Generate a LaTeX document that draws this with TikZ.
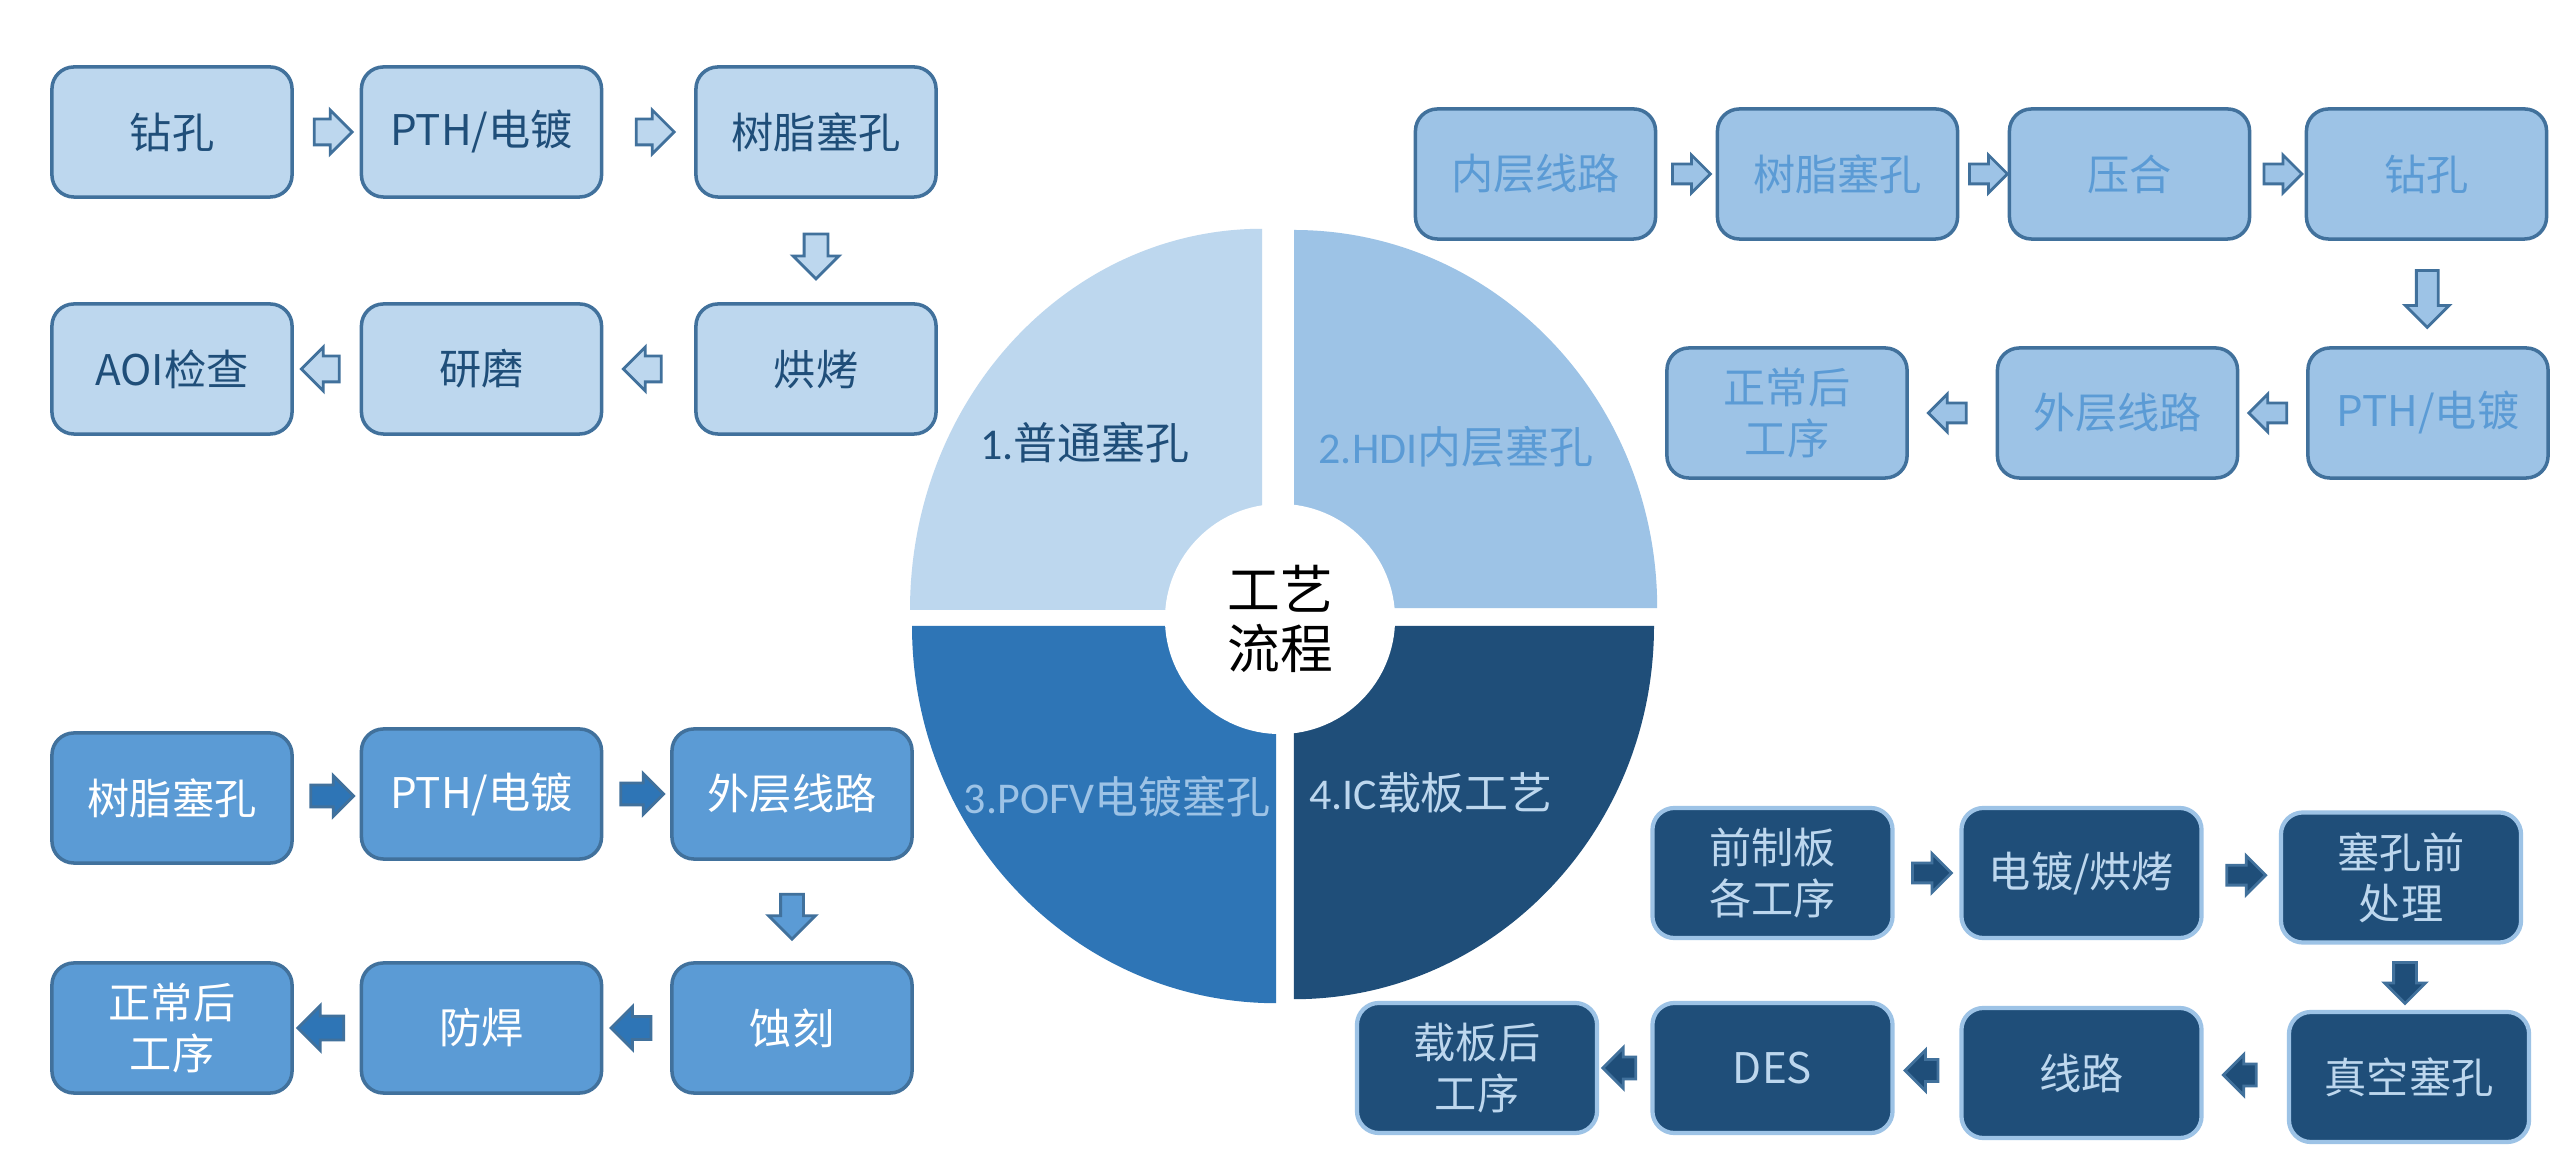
\documentclass[tikz,border=0pt]{standalone}
\usepackage{fontspec}
\setmainfont{Noto Sans CJK SC}
\newfontfamily\carl{Carlito}
\usetikzlibrary{shapes.arrows,calc}
\definecolor{c1}{HTML}{BDD7EE}
\definecolor{c2}{HTML}{9DC3E6}
\definecolor{c3}{HTML}{5B9BD5}
\definecolor{c4}{HTML}{2E75B6}
\definecolor{c5}{HTML}{1F4E79}
\definecolor{bd}{HTML}{41719C}
\tikzset{
  box/.style={rounded corners=0.22cm, minimum width=2.4cm, minimum height=1.3cm,
    line width=1pt, align=center, inner sep=0pt,
    font=\fontsize{12}{14.5}\selectfont},
  b1/.style={box, fill=c1, draw=bd, text=c5},
  b2/.style={box, fill=c2, draw=bd, text=c3},
  b3/.style={box, fill=c3, draw=bd, text=white},
  b4/.style={box, fill=c5, draw=c2, text=c1, line width=1.2pt},
  ar/.style n args={3}{single arrow, inner xsep=0pt, inner ysep=#2, outer sep=0pt,
    minimum height=#1, minimum width=0pt, single arrow head extend=#3, line width=0.8pt},
  p1/.style={fill=c1, draw=bd},
  p2/.style={fill=c2, draw=bd},
  p3/.style={fill=c4, draw=bd},
  p3d/.style={fill=c3, draw=bd},
  p4/.style={fill=c5, draw=bd},
  lab/.style={inner sep=0pt, font=\fontsize{12.5}{14}\selectfont},
}
\begin{document}
\begin{tikzpicture}[x=0.01cm, y=0.01cm]
\fill[white] (0,0) rectangle (2560,-1171);
\useasboundingbox (0,0) rectangle (2560,-1171);

% ring quadrants
\fill[c1] (1262,-610) -- (910,-610) arc[start angle=180, end angle=90, x radius=3.52cm, y radius=3.81cm] -- cycle;
\fill[c2] (1294,-608) -- (1294,-230) arc[start angle=90, end angle=0, x radius=3.63cm, y radius=3.78cm] -- cycle;
\fill[c4] (1276,-626) -- (912,-626) arc[start angle=180, end angle=270, x radius=3.64cm, y radius=3.77cm] -- cycle;
\fill[c5] (1294,-626) -- (1654,-626) arc[start angle=0, end angle=-90, x radius=3.60cm, y radius=3.73cm] -- cycle;

\node[circle, fill=white, minimum size=2.3cm, inner sep=0pt, align=center,
  font=\fontsize{15}{16.8}\selectfont] (ctr) at (1280,-619) {工艺\\流程};

\node[lab, text=c5] (l1) at (1085,-443) {{\carl 1.}普通塞孔};
\node[lab, text=c3] (l2) at (1456,-447) {{\carl 2.HDI}内层塞孔};
\node[lab, text=c2] (l3) at (1117,-797) {{\carl 3.POFV}电镀塞孔};
\node[lab, text=c1] (l4) at (1431,-793) {{\carl 4.IC}载板工艺};

% group 1
\node[b1] (g1a) at (172,-132) {钻孔};
\node[b1] (g1b) at (481.5,-132) {PTH/电镀};
\node[b1] (g1c) at (816,-132) {树脂塞孔};
\node[b1] (g1d) at (816,-369) {烘烤};
\node[b1] (g1e) at (481.5,-369) {研磨};
\node[b1] (g1f) at (172,-369) {AOI检查};
\node[ar={0.38cm}{0.115cm}{0.09cm}, p1] (a11) at ($(g1a.east)!.5!(g1b.west)$) {};
\node[ar={0.38cm}{0.115cm}{0.09cm}, p1] (a12) at ($(g1b.east)!.5!(g1c.west)$) {};
\node[ar={0.45cm}{0.105cm}{0.11cm}, p1, rotate=-90] (a13) at ($(g1c.south)!.5!(g1d.north)$) {};
\node[ar={0.38cm}{0.115cm}{0.09cm}, p1, rotate=180] (a14) at ($(g1d.west)!.5!(g1e.east)$) {};
\node[ar={0.38cm}{0.115cm}{0.09cm}, p1, rotate=180] (a15) at ($(g1e.west)!.5!(g1f.east)$) {};

% group 2
\node[b2] (g2a) at (1535.5,-174) {内层线路};
\node[b2] (g2b) at (1837.5,-174) {树脂塞孔};
\node[b2] (g2c) at (2129.5,-174) {压合};
\node[b2] (g2d) at (2426.5,-174) {钻孔};
\node[b2] (g2e) at (2428,-413) {PTH/电镀};
\node[b2] (g2f) at (2117.5,-413) {外层线路};
\node[b2] (g2g) at (1787,-413) {正常后\\工序};
\node[ar={0.38cm}{0.085cm}{0.09cm}, p2] (a21) at ($(g2a.east)!.5!(g2b.west)$) {};
\node[ar={0.38cm}{0.085cm}{0.09cm}, p2] (a22) at ($(g2b.east)!.5!(g2c.west)$) {};
\node[ar={0.38cm}{0.085cm}{0.09cm}, p2] (a23) at ($(g2c.east)!.5!(g2d.west)$) {};
\node[ar={0.57cm}{0.095cm}{0.11cm}, p2, rotate=-90] (a24) at ($(g2d.south)!.5!(g2e.north)$) {};
\node[ar={0.38cm}{0.085cm}{0.09cm}, p2, rotate=180] (a25) at ($(g2e.west)!.5!(g2f.east)$) {};
\node[ar={0.38cm}{0.085cm}{0.09cm}, p2, rotate=180] (a26) at ($(g2f.west)!.5!(g2g.east)$) {};

% group 3
\node[b3] (g3a) at (172,-798) {树脂塞孔};
\node[b3] (g3b) at (481.5,-794) {PTH/电镀};
\node[b3] (g3c) at (792,-794) {外层线路};
\node[b3] (g3d) at (792,-1028) {蚀刻};
\node[b3] (g3e) at (481.5,-1028) {防焊};
\node[b3] (g3f) at (172,-1028) {正常后\\工序};
\node[ar={0.43cm}{0.095cm}{0.095cm}, p3] (a31) at ($(g3a.east)!.5!(g3b.west)$) {};
\node[ar={0.43cm}{0.095cm}{0.095cm}, p3] (a32) at ($(g3b.east)!.5!(g3c.west)$) {};
\node[ar={0.45cm}{0.10cm}{0.12cm}, p3d, rotate=-90] (a33) at ($(g3c.south)!.5!(g3d.north)$) {};
\node[ar={0.40cm}{0.10cm}{0.10cm}, p3, rotate=180] (a34) at ($(g3d.west)!.5!(g3e.east)$) {};
\node[ar={0.46cm}{0.105cm}{0.105cm}, p3, rotate=180] (a35) at ($(g3e.west)!.5!(g3f.east)$) {};

% group 4
\node[b4] (g4a) at (1772.5,-873) {前制板\\各工序};
\node[b4] (g4b) at (2081.5,-873) {电镀/烘烤};
\node[b4] (g4c) at (2401,-877.5) {塞孔前\\处理};
\node[b4] (g4d) at (2409,-1077) {真空塞孔};
\node[b4] (g4e) at (2081.5,-1073) {线路};
\node[b4] (g4f) at (1772.5,-1068) {DES};
\node[b4] (g4g) at (1477,-1068) {载板后\\工序};
\node[ar={0.39cm}{0.085cm}{0.095cm}, p4] (a41) at ($(g4a.east)!.5!(g4b.west)$) {};
\node[ar={0.39cm}{0.085cm}{0.095cm}, p4] (a42) at ($(g4b.east)!.5!(g4c.west)$) {};
\node[ar={0.41cm}{0.10cm}{0.09cm}, p4, rotate=-90] (a43) at ($(g4c.south)!.5!(g4d.north)$) {};
\node[ar={0.33cm}{0.095cm}{0.095cm}, p4, rotate=180] (a44) at ($(g4d.west)!.5!(g4e.east)$) {};
\node[ar={0.33cm}{0.095cm}{0.095cm}, p4, rotate=180] (a45) at ($(g4e.west)!.5!(g4f.east)$) {};
\node[ar={0.33cm}{0.095cm}{0.095cm}, p4, rotate=180] (a46) at ($(g4f.west)!.5!(g4g.east)$) {};
\end{tikzpicture}
\end{document}
